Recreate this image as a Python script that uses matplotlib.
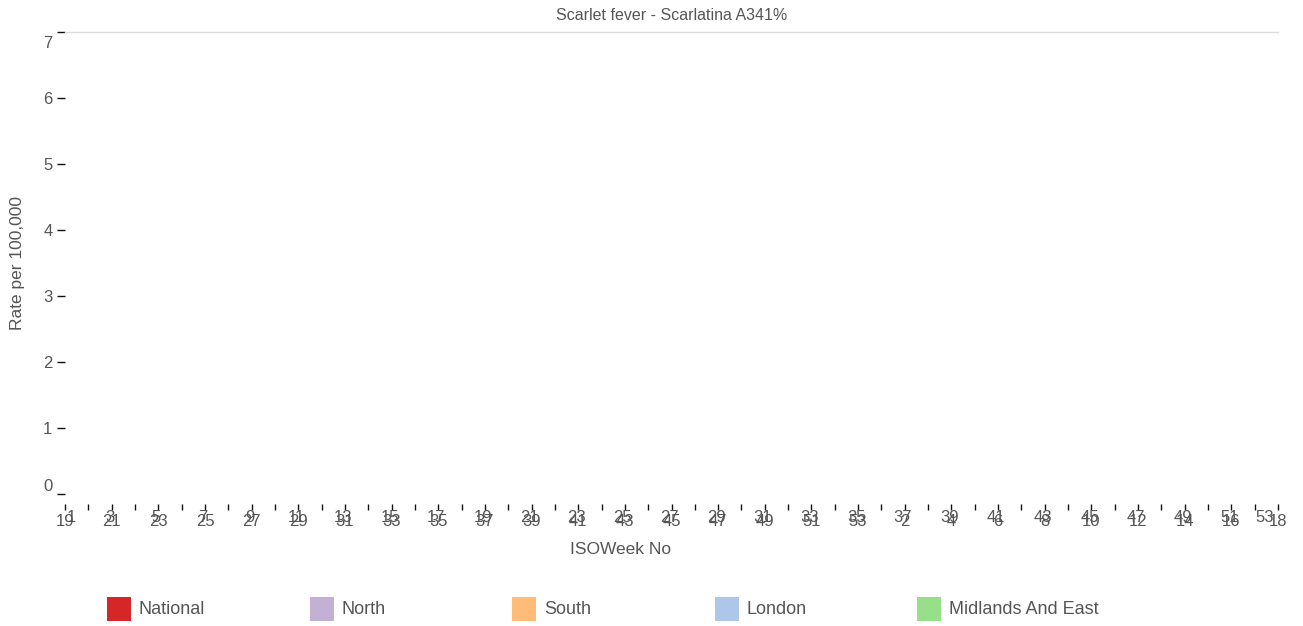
import matplotlib
matplotlib.use("Agg")
import matplotlib.pyplot as plt
import matplotlib.transforms as mtransforms
from matplotlib.patches import Rectangle

# ---------------- data ----------------
weeks = list(range(19, 54)) + list(range(1, 19))          # ISO week categories (53)
secondary_labels = list(range(1, 54, 2))                   # second overlapping label set
series_names = ["National", "North", "South", "London", "Midlands And East"]
series_colors = ["#d62728", "#c5b0d5", "#ffbb78", "#aec7e8", "#98df8a"]
# no values are shown in the chart – every series is empty
series_values = {name: [] for name in series_names}
y_ticks = [0, 1, 2, 3, 4, 5, 6, 7]

TEXT = "#555555"
plt.rcParams["font.family"] = ["Liberation Sans", "DejaVu Sans"]

W, H = 1303, 626
fig = plt.figure(figsize=(W / 100, H / 100), dpi=100)
ax = fig.add_axes([65 / W, 1 - 494 / H, (1278 - 65) / W, (494 - 32) / H])

x_pos = list(range(len(weeks)))
for name, color in zip(series_names, series_colors):
    vals = series_values[name]
    ax.plot(x_pos[:len(vals)], vals, color=color, lw=2)

ax.set_xlim(0, len(weeks) - 1)
ax.set_ylim(0, 7)

for s in ["left", "right", "bottom"]:
    ax.spines[s].set_visible(False)
ax.spines["top"].set_color("#dddddd")
ax.spines["top"].set_linewidth(1)
ax.spines["bottom"].set_position(("outward", 7))

# y axis
ax.set_yticks(y_ticks)
ax.set_yticklabels([str(v) for v in y_ticks])
ax.tick_params(axis="y", length=6, width=1, color="#111111", pad=3,
               labelsize=12, labelcolor=TEXT)
ylabels = ax.get_yticklabels()
ylabels[0].set_va("bottom")
ylabels[-1].set_va("top")
ylabels[-1].set_transform(ylabels[-1].get_transform() +
                          mtransforms.ScaledTranslation(0, -4 / 100, fig.dpi_scale_trans))

# x axis: a tick for every week, labels on every other tick
ax.set_xticks(x_pos)
ax.set_xticklabels([str(w) if i % 2 == 0 else "" for i, w in enumerate(weeks)])
ax.tick_params(axis="x", length=4.5, width=1, color="#111111", pad=3,
               labelsize=12, labelcolor=TEXT)

# second overlapping label set (1, 3, ..., 53)
sec_pos = x_pos[::2]
n = len(secondary_labels)
for i, (p, lab) in enumerate(zip(sec_pos, secondary_labels)):
    dx = -2
    if i == 0:
        dx = 6
    elif i == n - 1:
        dx = -13
    tr = ax.get_xaxis_transform() + mtransforms.ScaledTranslation(dx / 100, -23 / 100, fig.dpi_scale_trans)
    ax.text(p, 0, str(lab), transform=tr, ha="center", va="center",
            fontsize=12, color=TEXT)

# titles
fig.text(672 / W, 1 - 16 / H, "Scarlet fever - Scarlatina A341%", ha="center", va="center",
         fontsize=11.5, color=TEXT)
fig.text(621 / W, 1 - 549 / H, "ISOWeek No", ha="center", va="center",
         fontsize=12.5, color=TEXT)
fig.text(18 / W, 1 - 263 / H, "Rate per 100,000", ha="center", va="center",
         rotation=90, fontsize=12.5, color=TEXT)

# legend
x0, step = 107, 202.5
for i, (name, color) in enumerate(zip(series_names, series_colors)):
    x = x0 + i * step
    fig.add_artist(Rectangle((x / W, 1 - 621 / H), 24 / W, 24 / H,
                             transform=fig.transFigure, facecolor=color, edgecolor="none"))
    fig.text((x + 32) / W, 1 - 609 / H, name, ha="left", va="center",
             fontsize=13, color=TEXT)

fig.savefig("out.png", dpi=100)
